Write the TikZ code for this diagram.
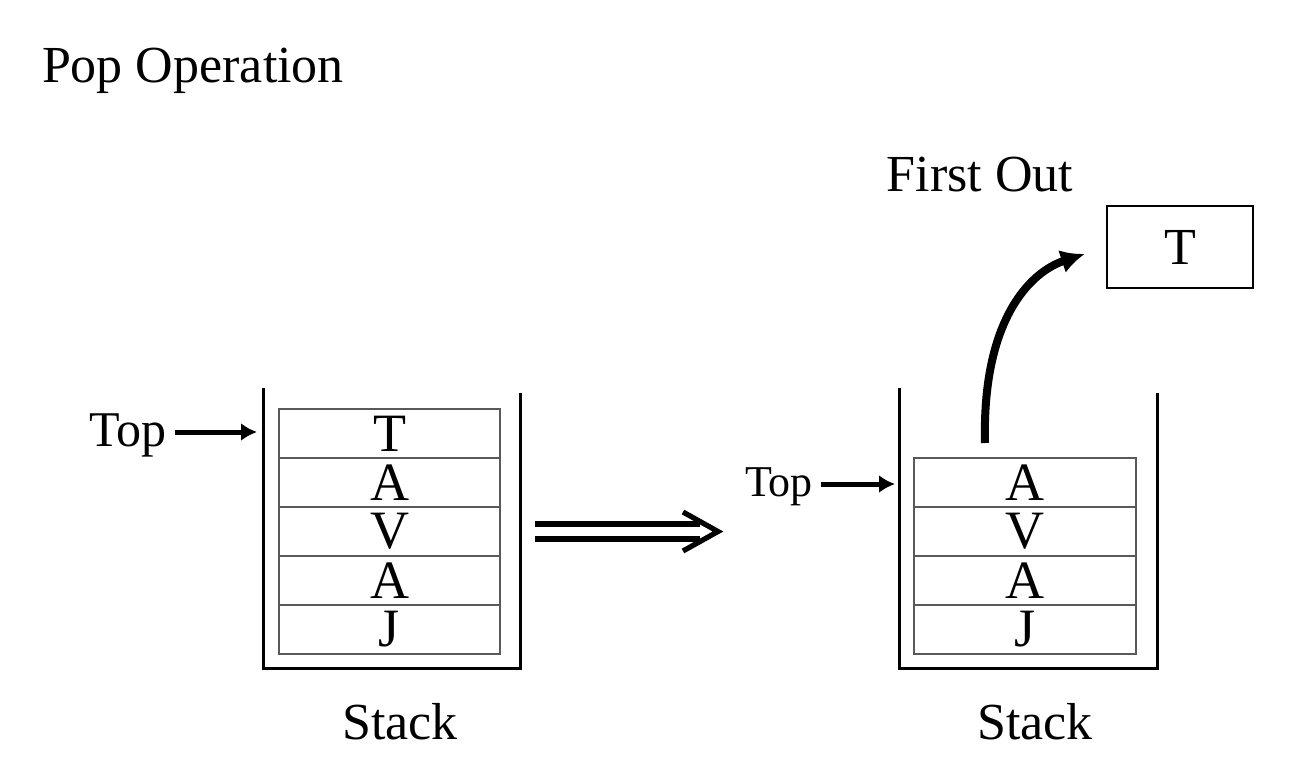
\documentclass[tikz,border=0pt]{standalone}
\usepackage{fontspec}
\setmainfont{Liberation Serif}
\usetikzlibrary{arrows.meta}
\begin{document}
\begin{tikzpicture}[x=0.5pt,y=-0.5pt,
  cell/.style={draw=black!65, line width=0.7pt, minimum width=110.5pt, minimum height=24.5pt, inner sep=0pt},
  letter/.style={inner sep=0pt, font=\fontsize{27}{30}\selectfont},
  wall/.style={line width=1.5pt, line join=miter},
  lbl/.style={inner sep=0pt, font=\fontsize{26}{30}\selectfont},
  ptr/.style={line width=2.5pt, -{Latex[length=8pt,width=9pt]}},
  dbl/.style={line width=2.6pt}]
\useasboundingbox (0,0) rectangle (1292,772);

% title
\node[lbl] (title) at (193,71) {Pop Operation};

% left stack
\draw[wall] (263,388) -- (263,668) -- (520,668) -- (520,393);
\node[cell] (l1) at (389.5,433.5) {};
\node[cell] (l2) at (389.5,482.5) {};
\node[cell] (l3) at (389.5,531.5) {};
\node[cell] (l4) at (389.5,580.5) {};
\node[cell] (l5) at (389.5,629.5) {};
\node[letter] (lt1) at (l1) {T};
\node[letter] (lt2) at (l2) {A};
\node[letter] (lt3) at (l3) {V};
\node[letter] (lt4) at (l4) {A};
\node[letter] (lt5) at (l5) {J};
\node[lbl] (stackL) at (400,722) {Stack};
\node[lbl, font=\fontsize{25}{30}\selectfont] (topL) at (128,435) {Top};
\coordinate (wallL) at (257,432);
\draw[ptr] (topL.east) ++(8,-3) -- (wallL);

% transition double arrow
\coordinate (d1) at (535,524);
\coordinate (d2) at (700,524);
\coordinate (d3) at (535,539);
\coordinate (d4) at (700,539);
\draw[dbl] (d1) -- (d2);
\draw[dbl] (d3) -- (d4);
\draw[dbl, line join=miter] (683,512) -- (718,531.5) -- (683,551);

% right stack
\draw[wall] (899,388) -- (899,668) -- (1157,668) -- (1157,393);
\node[cell, minimum width=111pt] (r1) at (1025,482.5) {};
\node[cell, minimum width=111pt] (r2) at (1025,531.5) {};
\node[cell, minimum width=111pt] (r3) at (1025,580.5) {};
\node[cell, minimum width=111pt] (r4) at (1025,629.5) {};
\node[letter] (rt1) at (r1) {A};
\node[letter] (rt2) at (r2) {V};
\node[letter] (rt3) at (r3) {A};
\node[letter] (rt4) at (r4) {J};
\node[lbl] (stackR) at (1035,722) {Stack};
\node[lbl, font=\fontsize{22}{26}\selectfont] (topR) at (779,487) {Top};
\coordinate (wallR) at (895,484);
\draw[ptr] (topR.east) ++(8,-3) -- (wallR);

% popped element
\node[lbl] (first) at (980,175) {First Out};
\node[draw, line width=1.2pt, minimum width=73pt, minimum height=41pt, inner sep=0pt, font=\fontsize{26}{30}\selectfont] (tbox) at (1180,247) {T};
\coordinate (popstart) at (985,443);
\draw[line width=4pt, -{Latex[length=12pt,width=12pt]}, shorten >=11pt]
  (popstart) .. controls (982,320) and (1030,272) .. (tbox.west);
\end{tikzpicture}
\end{document}
